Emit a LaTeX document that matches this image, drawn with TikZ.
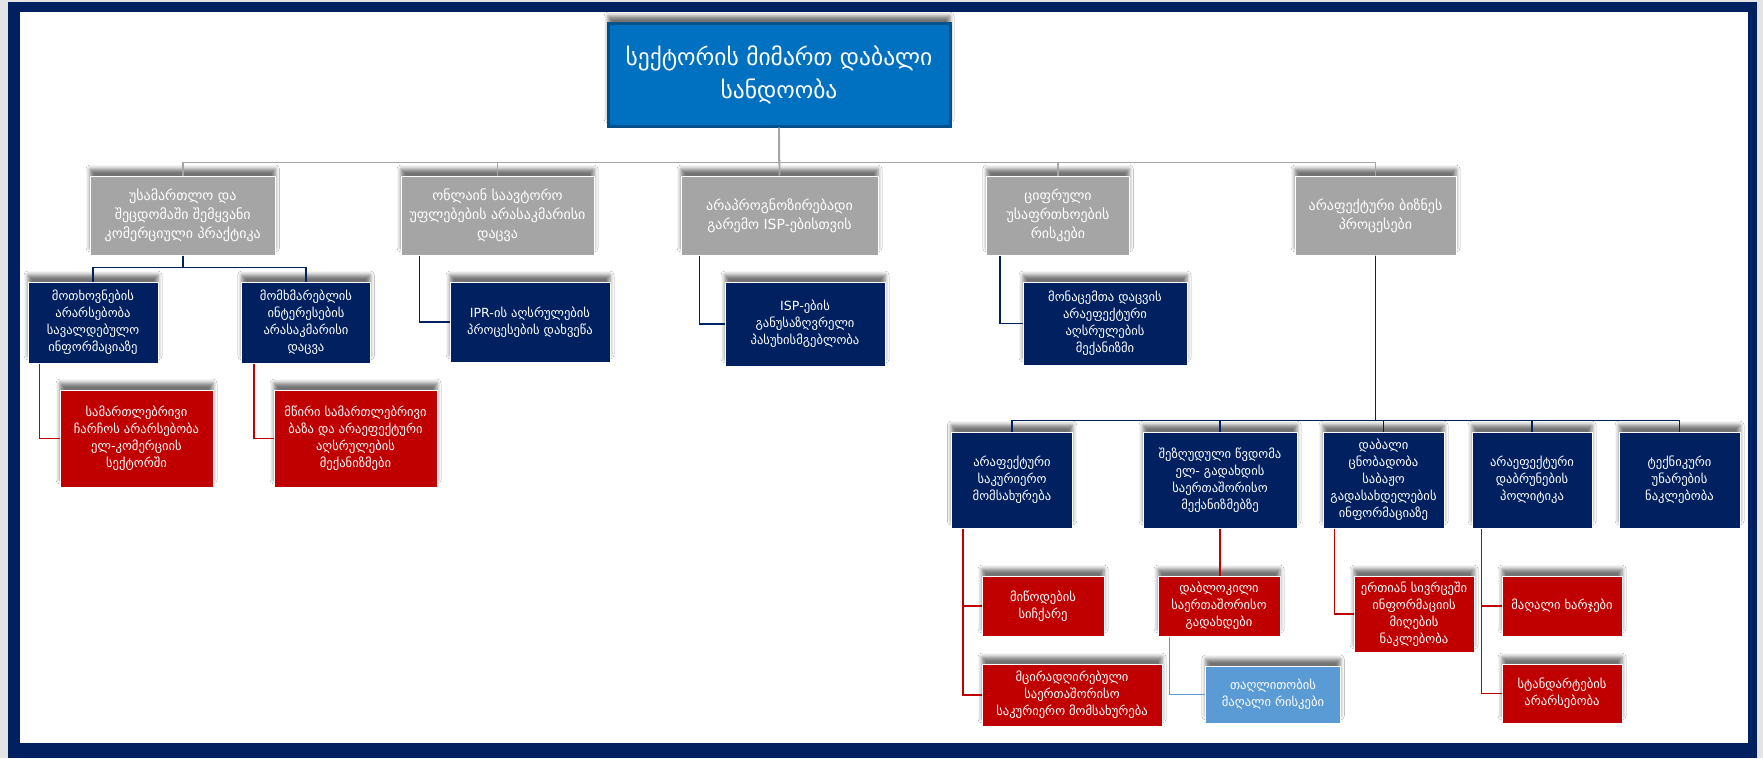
\documentclass[tikz,border=0pt]{standalone}
\usepackage{fontspec}
\setmainfont{DejaVu Sans}
\usetikzlibrary{shadows.blur}

\definecolor{navy}{HTML}{002060}
\definecolor{boxgray}{HTML}{A5A5A5}
\definecolor{linegray}{HTML}{A6A6A6}
\definecolor{darkred}{HTML}{C00000}
\definecolor{lightblue}{HTML}{5B9BD5}
\definecolor{rootblue}{HTML}{0070C0}
\definecolor{rootdark}{HTML}{00508C}
\definecolor{pagegray}{HTML}{E4E4E6}

\newcommand{\rootfont}{\fontsize{23.5}{33}\selectfont}
\newcommand{\midfont}{\fontsize{14}{19}\selectfont}
\newcommand{\smallfont}{\fontsize{12.6}{17}\selectfont}

\tikzset{
  box/.style={draw=white, line width=1pt, align=center, text=white, inner sep=0pt,
    font=\smallfont,
    blur shadow={shadow xshift=0pt, shadow yshift=7pt, shadow blur radius=4pt, shadow opacity=55}},
  rootbox/.style={box, fill=rootblue, draw=rootdark, line width=3pt, font=\rootfont},
  graybox/.style={box, fill=boxgray, font=\midfont},
  navybox/.style={box, fill=navy},
  redbox/.style={box, fill=darkred},
  bluebox/.style={box, fill=lightblue},
  grayline/.style={draw=linegray, line width=1.8pt},
  navyline/.style={draw=navy, line width=1.8pt},
  redline/.style={draw=darkred, line width=1.8pt},
  blueline/.style={draw=lightblue, line width=1.8pt},
}

\begin{document}
\begin{tikzpicture}[x=1pt,y=-1pt]

    % page and frame
    \fill[pagegray] (0,0) rectangle (1763,758);
    \useasboundingbox (0,0) rectangle (1763,758);
    \fill[navy] (8,2) rectangle (1757,758);
    \fill[white] (20,12) rectangle (1748,743);

    % top level
    \draw (779,74.5) node [rootbox, minimum width=342, minimum height=103] (root) {სექტორის მიმართ დაბალი\\სანდოობა};

    \draw (182.75,215.5) node [graybox, minimum width=185.5, minimum height=79] (g1) {უსამართლო და\\შეცდომაში შემყვანი\\კომერციული პრაქტიკა};
    \draw (497.5,215.5)  node [graybox, minimum width=193, minimum height=79] (g2) {ონლაინ საავტორო\\უფლებების არასაკმარისი\\დაცვა};
    \draw (779.5,215.5)  node [graybox, minimum width=197, minimum height=79] (g3) {არაპროგნოზირებადი\\გარემო ISP-ებისთვის};
    \draw (1058,215.5)   node [graybox, minimum width=142.5, minimum height=79] (g4) {ციფრული\\უსაფრთხოების\\რისკები};
    \draw (1375.5,215.5) node [graybox, minimum width=161, minimum height=79] (g5) {არაფექტური ბიზნეს\\პროცესები};

    % second level
    \draw (93,322.5)  node [navybox, minimum width=130, minimum height=81] (dem) {მოთხოვნების\\არარსებობა\\სავალდებულო\\ინფორმაციაზე};
    \draw (306,322.5) node [navybox, minimum width=128.5, minimum height=81] (cons) {მომხმარებლის\\ინტერესების\\არასაკმარისი\\დაცვა};
    \draw (530,322)   node [navybox, minimum width=160, minimum height=80] (ipr) {IPR-ის აღსრულების\\პროცესების დახვეწა};
    \draw (805,324)   node [navybox, minimum width=160, minimum height=84] (isp) {ISP-ების\\განუსაზღვრელი\\პასუხისმგებლობა};
    \draw (1105,323.5) node [navybox, minimum width=164, minimum height=83] (data) {მონაცემთა დაცვის\\არაეფექტური\\აღსრულების\\მექანიზმი};

    \draw (136.5,438.5) node [redbox, minimum width=153, minimum height=97] (law) {სამართლებრივი\\ჩარჩოს არარსებობა\\ელ-კომერციის\\სექტორში};
    \draw (355.5,438.5) node [redbox, minimum width=163, minimum height=97] (base) {მწირი სამართლებრივი\\ბაზა და არაეფექტური\\აღსრულების\\მექანიზმები};

    % business processes
    \draw (1012,480)   node [navybox, minimum width=121.5, minimum height=96] (cour) {არაფექტური\\საკურიერო\\მომსახურება};
    \draw (1220,480)   node [navybox, minimum width=154, minimum height=96] (pay) {შეზღუდული წვდომა\\ელ- გადახდის\\საერთაშორისო\\მექანიზმებზე};
    \draw (1383.5,480) node [navybox, minimum width=121, minimum height=96] (cust) {დაბალი\\ცნობადობა\\საბაჟო\\გადასახდელების\\ინფორმაციაზე};
    \draw (1532,480)   node [navybox, minimum width=120, minimum height=96] (ret) {არაეფექტური\\დაბრუნების\\პოლიტიკა};
    \draw (1679.5,480) node [navybox, minimum width=121, minimum height=96] (skill) {ტექნიკური\\უნარების\\ნაკლებობა};

    \draw (1043,606)  node [redbox, minimum width=122, minimum height=60] (speed) {მიწოდების\\სიჩქარე};
    \draw (1072,695)  node [redbox, minimum width=180, minimum height=62] (cheap) {მცირადღირებული\\საერთაშორისო\\საკურიერო მომსახურება};
    \draw (1219,606)  node [redbox, minimum width=122, minimum height=60] (block) {დაბლოკილი\\საერთაშორისო\\გადახდები};
    \draw (1273,694.5) node [bluebox, minimum width=134.5, minimum height=57] (fraud) {თაღლითობის\\მაღალი რისკები};
    \draw (1414,614)  node [redbox, minimum width=120, minimum height=76] (info) {ერთიან სივრცეში\\ინფორმაციის\\მიღების\\ნაკლებობა};
    \draw (1562,606)  node [redbox, minimum width=120, minimum height=60] (cost) {მაღალი ხარჯები};
    \draw (1562,693.5) node [redbox, minimum width=120, minimum height=59] (std) {სტანდარტების\\არარსებობა};

    % connectors
    \draw[grayline] (root.south) -- ++(0,35) -| (g1.north);
    \draw[grayline] (root.south) -- ++(0,35) -| (g2.north);
    \draw[grayline] (root.south) -- (g3.north);
    \draw[grayline] (root.south) -- ++(0,35) -| (g4.north);
    \draw[grayline] (root.south) -- ++(0,35) -| (g5.north);

    \draw[navyline] (g1.south) -- ++(0,12) -| (dem.north);
    \draw[navyline] (g1.south) -- ++(0,12) -| (cons.north);
    \draw[navyline] ([xshift=19pt]g2.south west) |- (ipr.west);
    \draw[navyline] ([xshift=19pt]g3.south west) |- (isp.west);
    \draw[navyline] ([xshift=14pt]g4.south west) |- (data.west);
    \draw[redline] ([xshift=12pt]dem.south west) |- (law.west);
    \draw[redline] ([xshift=13pt]cons.south west) |- (base.west);

    \draw[navyline] (g5.south) -- ++(0,165) -| (cour.north);
    \draw[navyline] (g5.south) -- ++(0,165) -| (pay.north);
    \draw[navyline] (g5.south) -- ++(0,165) -| (cust.north);
    \draw[navyline] (g5.south) -- ++(0,165) -| (ret.north);
    \draw[navyline] (g5.south) -- ++(0,165) -| (skill.north);

    \draw[redline] ([xshift=12pt]cour.south west) |- (speed.west);
    \draw[redline] ([xshift=12pt]cour.south west) |- (cheap.west);
    \draw[redline] (pay.south) -- (pay.south |- block.north);
    \draw[blueline] ([xshift=12pt]block.south west) |- (fraud.west);
    \draw[redline] ([xshift=12pt]cust.south west) |- (info.west);
    \draw[redline] ([xshift=10pt]ret.south west) |- (cost.west);
    \draw[redline] ([xshift=10pt]ret.south west) |- (std.west);

\end{tikzpicture}
\end{document}
